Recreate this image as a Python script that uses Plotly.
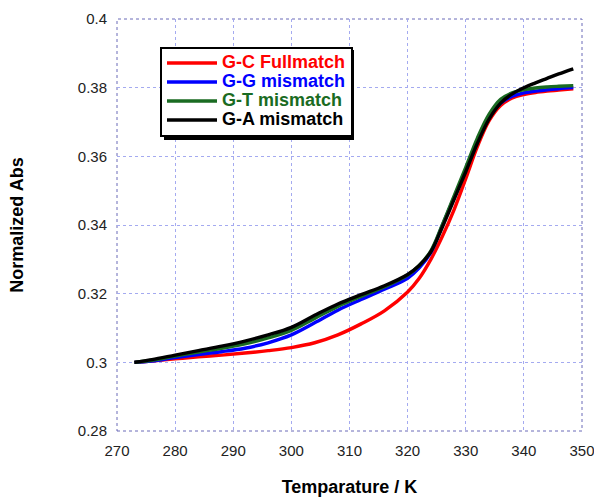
import plotly.graph_objects as go

temps = [273, 276, 280, 284, 288, 292, 296, 300, 304, 308, 312, 316, 320,
         322, 324, 326, 328, 330, 332, 334, 336, 338, 340, 342, 344, 346, 348.5]

gc_full = [0.3000, 0.3004, 0.3010, 0.3016, 0.3021, 0.3027, 0.3034, 0.3043, 0.3057,
           0.3080, 0.3112, 0.3150, 0.3205, 0.3245, 0.3300, 0.3368, 0.3445, 0.3535,
           0.3628, 0.3703, 0.3748, 0.3770, 0.3780, 0.3786, 0.3790, 0.3793, 0.3797]
gg_mis = [0.3000, 0.3004, 0.3014, 0.3023, 0.3031, 0.3041, 0.3057, 0.3080, 0.3115,
          0.3152, 0.3183, 0.3213, 0.3245, 0.3275, 0.3320, 0.3400, 0.3480, 0.3560,
          0.3645, 0.3712, 0.3755, 0.3775, 0.3785, 0.3790, 0.3794, 0.3797, 0.3800]
gt_mis = [0.3000, 0.3006, 0.3018, 0.3030, 0.3041, 0.3054, 0.3071, 0.3093, 0.3128,
          0.3163, 0.3192, 0.3220, 0.3254, 0.3282, 0.3325, 0.3402, 0.3485, 0.3568,
          0.3653, 0.3722, 0.3766, 0.3785, 0.3794, 0.3799, 0.3802, 0.3804, 0.3806]
ga_mis = [0.3000, 0.3008, 0.3021, 0.3034, 0.3047, 0.3062, 0.3080, 0.3102, 0.3137,
          0.3170, 0.3197, 0.3223, 0.3256, 0.3282, 0.3322, 0.3395, 0.3475, 0.3555,
          0.3638, 0.3708, 0.3755, 0.3782, 0.3800, 0.3814, 0.3827, 0.3840, 0.3855]

series_names = ["G-C Fullmatch", "G-G mismatch", "G-T mismatch", "G-A mismatch"]
series_colors = ["#ff0000", "#0000ff", "#1a6b22", "#000000"]
series_values = [gc_full, gg_mis, gt_mis, ga_mis]

x_ticks = [270, 280, 290, 300, 310, 320, 330, 340, 350]
y_ticks = [0.28, 0.30, 0.32, 0.34, 0.36, 0.38, 0.40]

fig = go.Figure()
for name, color, vals in zip(series_names, series_colors, series_values):
    fig.add_trace(go.Scatter(
        x=temps, y=vals, mode="lines",
        line=dict(color=color, width=3.4, shape="spline", smoothing=1.0),
        name=f"<span style='color:{color};font-size:18px'><b>{name}</b></span>",
    ))

W, H = 594, 497
L, R, T, B = 117, 12, 19, 66
pw, ph = W - L - R, H - T - B

def px_to_paper(px, py):
    return (px - L) / pw, (H - B - py) / ph

lx, ly = px_to_paper(160, 46.5)
sx0, sy1 = px_to_paper(164, 50)
sx1, sy0 = px_to_paper(354, 140)

fig.add_shape(type="rect", xref="paper", yref="paper", x0=0, x1=1, y0=0, y1=1,
              line=dict(color="#6a6ab8", width=1, dash="dot"), layer="below")
fig.add_shape(type="rect", xref="paper", yref="paper", x0=sx0, x1=sx1, y0=sy0, y1=sy1,
              line=dict(width=0), fillcolor="black", layer="above")

font_family = "Arial, Liberation Sans, sans-serif"
grid = dict(showgrid=True, gridcolor="#a4aaf0", gridwidth=1, griddash="dot",
            zeroline=False, showline=False,
            ticks="outside", ticklen=6, tickcolor="rgba(0,0,0,0)",
            ticklabeloverflow="allow",
            tickfont=dict(family=font_family, size=15, color="#222222"))

fig.update_xaxes(range=[270, 350], tickvals=x_ticks, **grid,
                 title=dict(text="<b>Temparature / K</b>", standoff=25,
                            font=dict(family=font_family, size=18, color="black")))
fig.update_yaxes(range=[0.28, 0.40], tickvals=y_ticks, tickformat="~g", **grid,
                 title=dict(text="<b>Normalized Abs</b>", standoff=49,
                            font=dict(family=font_family, size=18, color="black")))

fig.update_layout(
    width=W, height=H,
    margin=dict(l=L, r=R, t=T, b=B, autoexpand=False),
    paper_bgcolor="white", plot_bgcolor="white",
    showlegend=True,
    legend=dict(x=lx, y=ly, xanchor="left", yanchor="top",
                bgcolor="white", bordercolor="black", borderwidth=2,
                font=dict(family=font_family, size=12, color="black"),
                itemwidth=50, tracegroupgap=0),
)

fig.write_html("out.html")
